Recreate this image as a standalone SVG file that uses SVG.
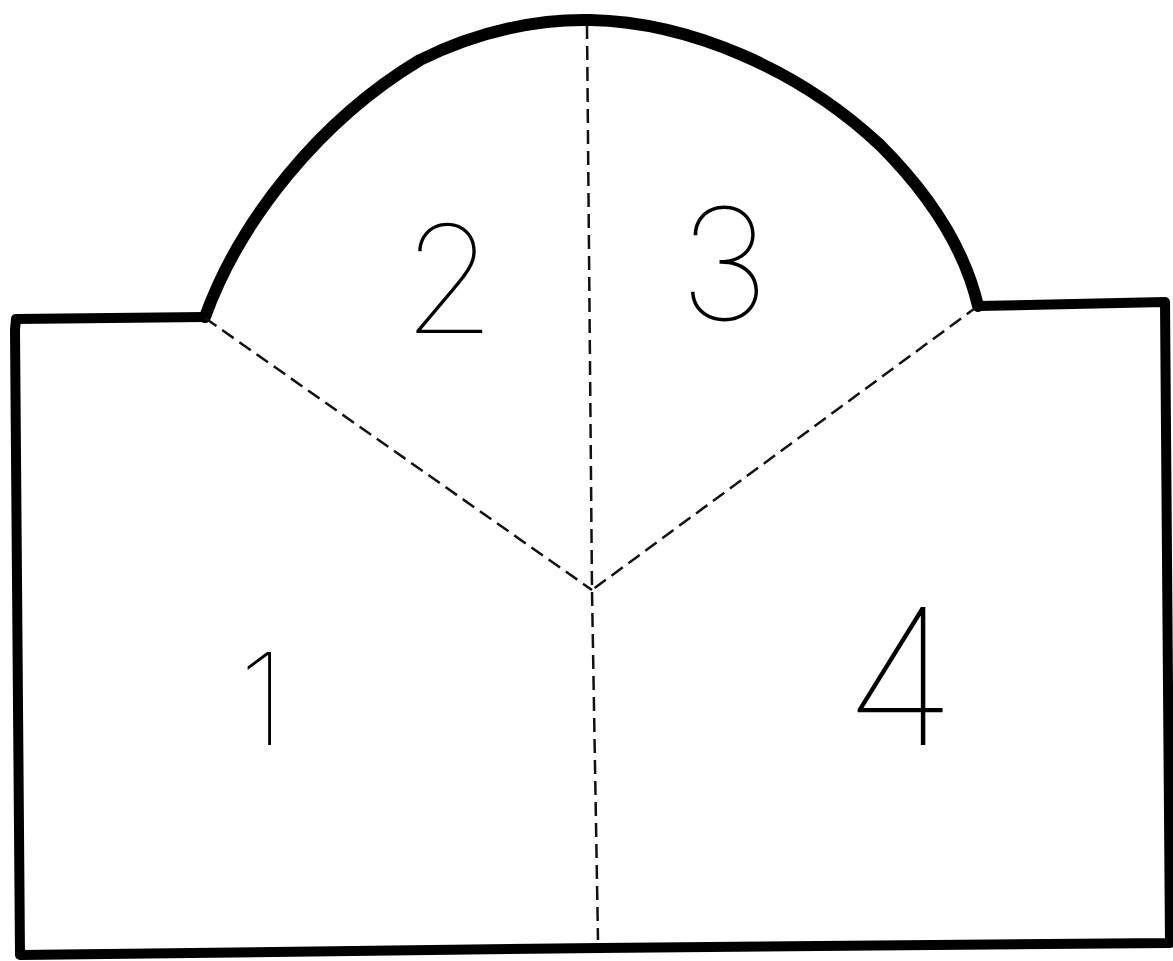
<svg xmlns="http://www.w3.org/2000/svg" width="1173" height="961" viewBox="0 0 1173 961">
<style>
.outline{fill:none;stroke:#000;stroke-linejoin:round;stroke-linecap:round}
.fold{fill:none;stroke:#111;stroke-width:2.5;stroke-dasharray:14 7}
.num{font-family:Inter,"Liberation Sans",sans-serif;font-weight:100;fill:#000;text-anchor:middle}
</style>
<rect width="1173" height="961" fill="#fff"/>
<g id="outline">
<path class="outline" stroke-width="10" d="M205,317 L16,319 L15,330 L20,955 L600,948 L1170,943 L1165,302 L978,306"/>
<path class="outline" stroke-width="12" d="M205,317 C240,220 320,120 420,60 C480,30 540,19 590,20 C690,22 800,70 880,145 C930,195 965,250 978,306"/>
</g>
<g id="folds">
<path class="fold" d="M587,25 L592,590 L598,940"/>
<path class="fold" d="M205,318 L592,590"/>
<path class="fold" d="M978,306 L592,590"/>
</g>
<g id="labels">
<text class="num" x="449" y="333" font-size="150">2</text>
<text class="num" x="724" y="320" font-size="155">3</text>
<text class="num" x="262" y="745" font-size="128">1</text>
<text class="num" x="900" y="745" font-size="190">4</text>
</g>
</svg>
